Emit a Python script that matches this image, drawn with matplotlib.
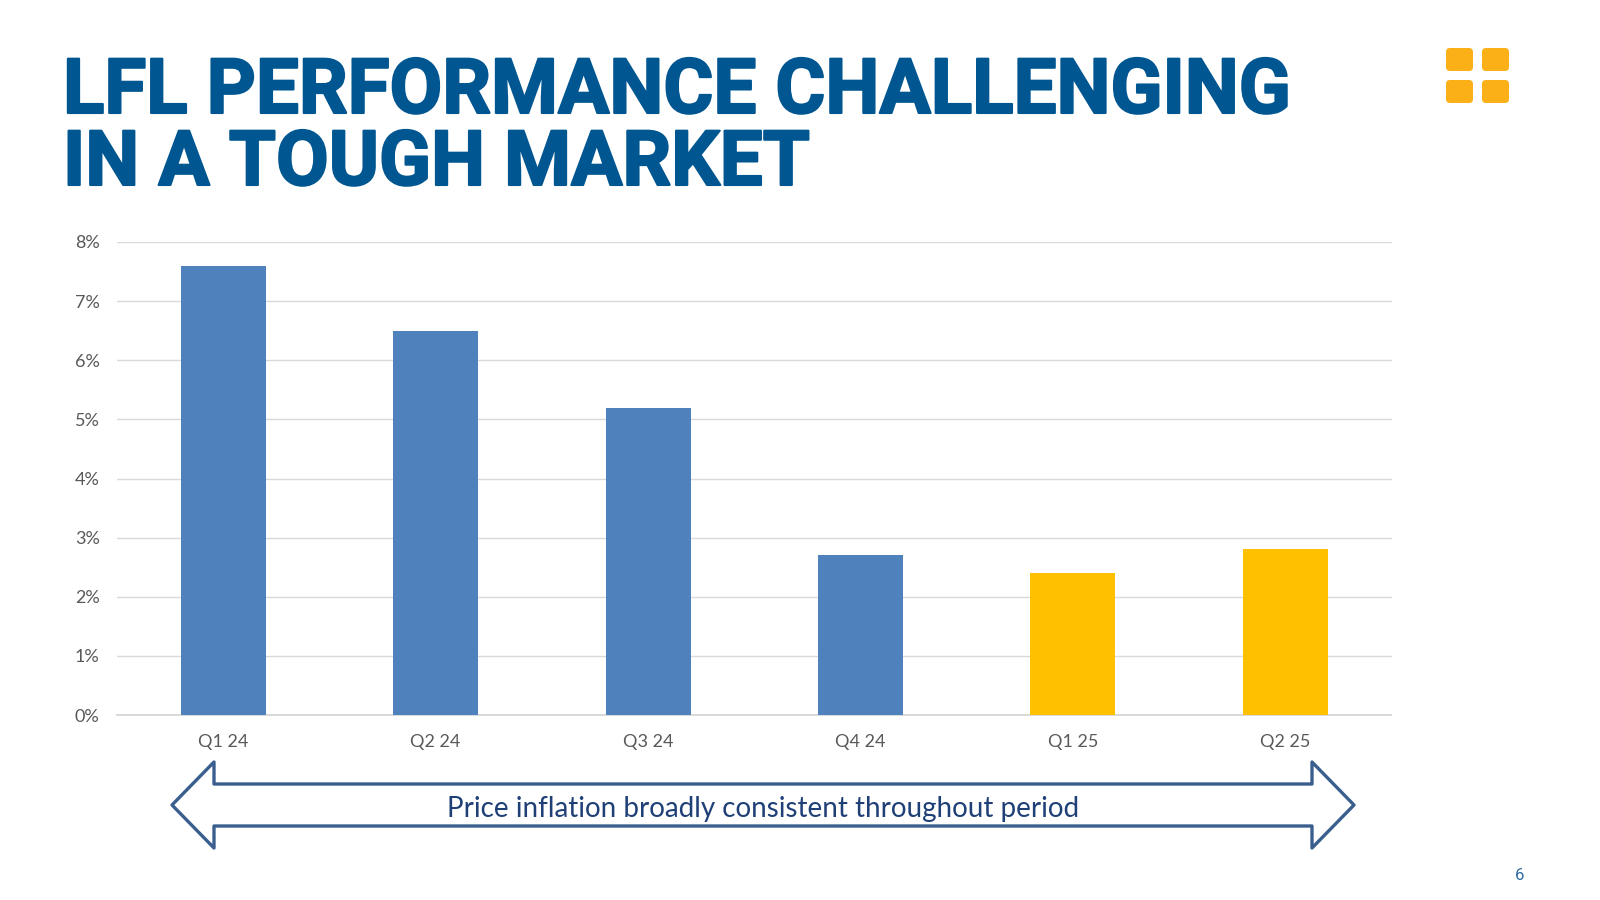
import matplotlib
matplotlib.use("Agg")
import matplotlib.pyplot as plt
import matplotlib.patheffects as pe
from matplotlib.patches import FancyBboxPatch, Polygon
from matplotlib.ticker import PercentFormatter

W, H = 1600, 900

QUARTERS = ["Q1 24", "Q2 24", "Q3 24", "Q4 24", "Q1 25", "Q2 25"]
LFL_VALUES = [7.6, 6.5, 5.2, 2.7, 2.4, 2.8]
BAR_COLORS = ["#4F81BD", "#4F81BD", "#4F81BD", "#4F81BD", "#FFC000", "#FFC000"]
Y_TICKS = [0, 1, 2, 3, 4, 5, 6, 7, 8]
TITLE_LINES = ["LFL PERFORMANCE CHALLENGING", "IN A TOUGH MARKET"]
ARROW_TEXT = "Price inflation broadly consistent throughout period"
TITLE_COLOR = "#005690"

fig = plt.figure(figsize=(16, 9), dpi=100, facecolor="white")

# overlay in pixel coordinates for the slide furniture
page = fig.add_axes([0, 0, 1, 1])
page.set_xlim(0, W)
page.set_ylim(H, 0)
page.axis("off")

# chart
ax = fig.add_axes([117 / W, 1 - 715 / H, (1391.5 - 117) / W, (715 - 242) / H])
ax.bar(range(len(QUARTERS)), LFL_VALUES, width=0.4, color=BAR_COLORS, zorder=3)
ax.set_xlim(-0.5, len(QUARTERS) - 0.5)
ax.set_ylim(0, 8)
ax.set_yticks(Y_TICKS)
ax.yaxis.set_major_formatter(PercentFormatter(decimals=0))
ax.set_xticks(range(len(QUARTERS)), QUARTERS)
ax.tick_params(axis="both", length=0, labelsize=13, labelcolor="#595959")
ax.tick_params(axis="x", pad=14)
ax.tick_params(axis="y", pad=12.5)
for label in ax.get_xticklabels() + ax.get_yticklabels():
    label.set_family("Lato")
ax.grid(axis="y", color="#D9D9D9", linewidth=1.0, zorder=0)
ax.set_axisbelow(True)
for side in ["top", "right", "left"]:
    ax.spines[side].set_visible(False)
ax.spines["bottom"].set_color("#D9D9D9")
ax.spines["bottom"].set_linewidth(1.4)
ax.patch.set_alpha(0)

# title, thin stroke to get closer to the heavier original face
stroke = [pe.withStroke(linewidth=1.5, foreground=TITLE_COLOR)]
page.text(63, 113, TITLE_LINES[0], fontsize=55, fontweight="bold", family="Roboto",
          color=TITLE_COLOR, va="baseline", ha="left", path_effects=stroke)
page.text(63, 185, TITLE_LINES[1], fontsize=55, fontweight="bold", family="Roboto",
          color=TITLE_COLOR, va="baseline", ha="left", path_effects=stroke)

# logo squares
for x0 in (1446, 1482):
    for y0 in (48, 80):
        page.add_patch(FancyBboxPatch((x0 + 4, y0 + 4), 19, 15,
                                      boxstyle="round,pad=4,rounding_size=4",
                                      facecolor="#FBB017", edgecolor="none"))

# double arrow
arrow_outline = [(172, 805), (214, 762), (214, 784), (1312, 784), (1312, 762),
                 (1354, 805), (1312, 848), (1312, 826), (214, 826), (214, 848)]
page.add_patch(Polygon(arrow_outline, closed=True, facecolor="white",
                       edgecolor="#3A5F8F", linewidth=2.4, joinstyle="round"))
page.text(763, 808.5, ARROW_TEXT, fontsize=20, family="Lato", color="#1F3F77",
          ha="center", va="center")

page.text(1520, 875, "6", fontsize=12, family="Roboto", color="#2F6CA3",
          ha="center", va="center")

fig.savefig("out.png", dpi=100)
